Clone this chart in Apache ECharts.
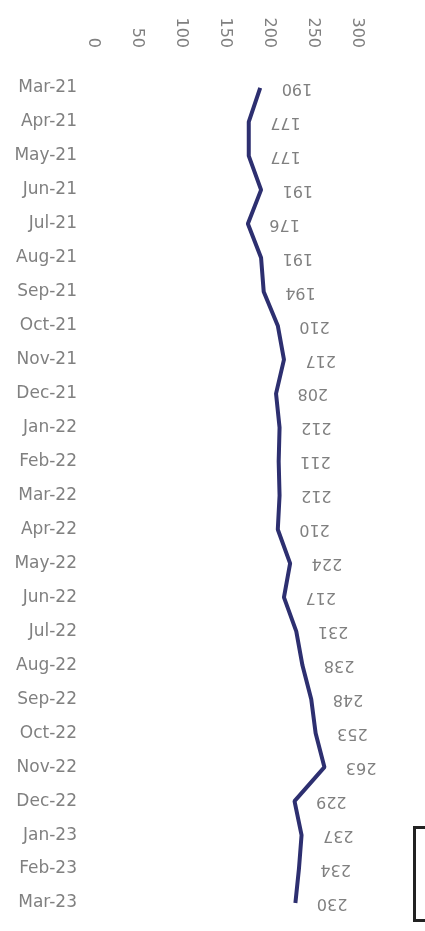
<!DOCTYPE html>
<html>
<head>
<meta charset="utf-8">
<script src="https://cdn.jsdelivr.net/npm/echarts@6/dist/echarts.min.js"></script>
<style>
  html, body { margin: 0; padding: 0; background: #fff; }
  #chart { width: 425px; height: 931px; }
</style>
</head>
<body>
<div id="chart"></div>
<script>
// months (top to bottom)
var months = ["Mar-21", "Apr-21", "May-21", "Jun-21", "Jul-21", "Aug-21", "Sep-21", "Oct-21",
  "Nov-21", "Dec-21", "Jan-22", "Feb-22", "Mar-22", "Apr-22", "May-22", "Jun-22", "Jul-22",
  "Aug-22", "Sep-22", "Oct-22", "Nov-22", "Dec-22", "Jan-23", "Feb-23", "Mar-23"];
// monthly values
var values = [190, 177, 177, 191, 176, 191, 194, 210, 217, 208, 212, 211, 212, 210, 224,
  217, 231, 238, 248, 253, 263, 229, 237, 234, 230];
// value axis range
var axisMin = 0;
var axisMax = 300;
var axisStep = 50;

var myChart = echarts.init(document.getElementById("chart"));
var grey = "#808080";
var font = "DejaVu Sans";

var option = {
  animation: false,
  backgroundColor: "#fff",
  grid: {
    left: 93,
    right: 68,
    top: 71,
    bottom: 11,
  },
  xAxis: {
    type: "value",
    position: "top",
    min: axisMin,
    max: axisMax,
    interval: axisStep,
    axisLine: { show: false },
    axisTick: { show: false },
    splitLine: { show: false },
    axisLabel: {
      rotate: 90,
      margin: 23,
      color: grey,
      fontFamily: font,
      fontSize: 16,
    },
  },
  yAxis: {
    type: "category",
    inverse: true,
    data: months,
    axisLine: { show: false },
    axisTick: { show: false },
    axisLabel: {
      margin: 16,
      color: grey,
      fontFamily: font,
      fontSize: 17,
    },
  },
  series: [
    {
      type: "line",
      data: values,
      showSymbol: true,
      symbol: "circle",
      symbolSize: 1,
      itemStyle: { color: "rgba(0,0,0,0)" },
      lineStyle: { color: "#2d2f70", width: 4 },
      label: {
        show: true,
        position: "right",
        distance: 21,
        rotate: 180,
        align: "right",
        verticalAlign: "middle",
        color: grey,
        fontFamily: font,
        fontSize: 16,
      },
    },
  ],
  // cut-off legend box at bottom right
  graphic: [
    {
      type: "rect",
      left: 412,
      top: 825,
      shape: { width: 40, height: 93 },
      style: { fill: "none", stroke: "#222", lineWidth: 3 },
    },
  ],
};
myChart.setOption(option);
</script>
</body>
</html>
